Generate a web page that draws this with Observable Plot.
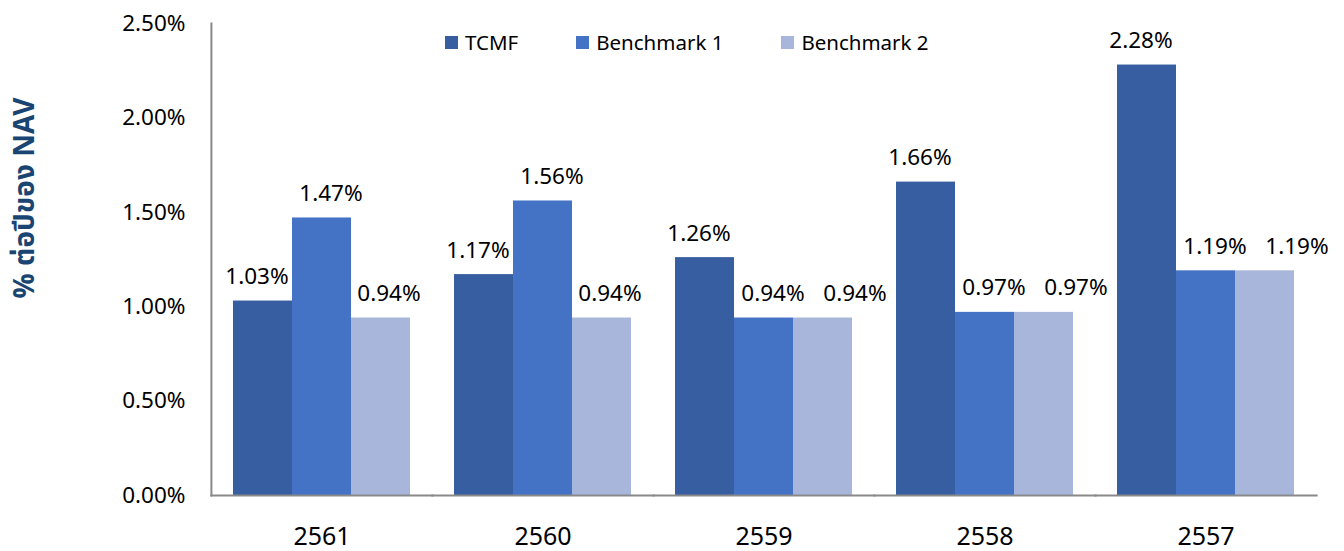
<!DOCTYPE html>
<html>
<head>
<meta charset="utf-8">
<script src="https://cdn.jsdelivr.net/npm/d3@7"></script>
<script src="https://cdn.jsdelivr.net/npm/@observablehq/plot@0.6"></script>
<style>
  html, body { margin: 0; padding: 0; background: white; }
  #wrap { position: relative; width: 1344px; height: 551px; font-family: "Noto Sans", "Open Sans", sans-serif; }
  #ytitle { position: absolute; left: 25px; top: 198px; transform: translate(-50%, -50%) rotate(-90deg);
    white-space: nowrap; font-weight: bold; font-size: 28px; color: #1A4573; font-family: "Noto Sans Thai", "Noto Sans", sans-serif; }
  #legend { position: absolute; left: 445px; top: 28px; display: flex; gap: 58px; font-size: 20.5px; color: black; }
  .item { display: flex; align-items: center; gap: 7px; line-height: 28px; }
  .sw { width: 13px; height: 13px; display: inline-block; }
</style>
</head>
<body>
<div id="wrap"></div>
<script>
const years = ["2561", "2560", "2559", "2558", "2557"];
const series = ["TCMF", "Benchmark 1", "Benchmark 2"];
const tcmf = [1.03, 1.17, 1.26, 1.66, 2.28];
const bench1 = [1.47, 1.56, 0.94, 0.97, 1.19];
const bench2 = [0.94, 0.94, 0.94, 0.97, 1.19];
const colors = ["#365EA1", "#4472C4", "#A9B6DB"];
const yTicks = [0, 0.5, 1, 1.5, 2, 2.5];
const yTitle = "% ต่อปีของ NAV";

const values = [tcmf, bench1, bench2];
const data = years.flatMap((yr, i) => series.map((s, j) => ({
  year: yr, series: s, value: values[j][i],
  // label collides with its left neighbour when both bars have the same height
  collides: j > 0 && values[j][i] === values[j - 1][i]
})));
const fmt = d => d.toFixed(2) + "%";

const labelOpts = {fx: "year", x: "series", y: "value", text: d => fmt(d.value), lineAnchor: "bottom", dy: -17, fontSize: 22.5, fill: "black"};

const chart = Plot.plot({
  width: 1344,
  height: 551,
  marginLeft: 211,
  marginRight: 28,
  marginTop: 23,
  marginBottom: 56,
  style: {fontFamily: "'Noto Sans', 'Open Sans', sans-serif", background: "white", color: "black", overflow: "visible"},
  fx: {domain: years, paddingInner: 0.2, paddingOuter: 0.1, label: null},
  x: {domain: series, padding: 0, axis: null},
  y: {domain: [0, 2.5], axis: null},
  color: {domain: series, range: colors},
  marks: [
    Plot.barY(data, {fx: "year", x: "series", y: "value", fill: "series"}),
    Plot.text(data.filter(d => d.series === series[0]), {...labelOpts, dx: -6}),
    Plot.text(data.filter(d => d.series === series[1]), {...labelOpts, dx: 9}),
    Plot.text(data.filter(d => d.series === series[2] && !d.collides), {...labelOpts, dx: 8}),
    Plot.text(data.filter(d => d.series === series[2] && d.collides), {...labelOpts, dx: 32}),
    Plot.axisY({ticks: yTicks, tickFormat: fmt, tickSize: 0, tickPadding: 48, fontSize: 22.5, label: null}),
    Plot.axisFx({anchor: "bottom", tickSize: 0, tickPadding: 32, fontSize: 25, label: null}),
    Plot.frame({anchor: "bottom", insetLeft: -22.1, insetRight: -22.1, stroke: "#898989", strokeWidth: 2}),
    Plot.frame({anchor: "left", insetLeft: -22.1, stroke: "#898989", strokeWidth: 2, facetAnchor: "left"})
  ]
});

const wrap = document.getElementById("wrap");
wrap.appendChild(chart);

const t = document.createElement("div");
t.id = "ytitle";
t.textContent = yTitle;
wrap.appendChild(t);

const legend = document.createElement("div");
legend.id = "legend";
series.forEach((s, i) => {
  const item = document.createElement("div");
  item.className = "item";
  const sw = document.createElement("span");
  sw.className = "sw";
  sw.style.background = colors[i];
  const lab = document.createElement("span");
  lab.textContent = s;
  item.appendChild(sw);
  item.appendChild(lab);
  legend.appendChild(item);
});
wrap.appendChild(legend);
</script>
</body>
</html>
